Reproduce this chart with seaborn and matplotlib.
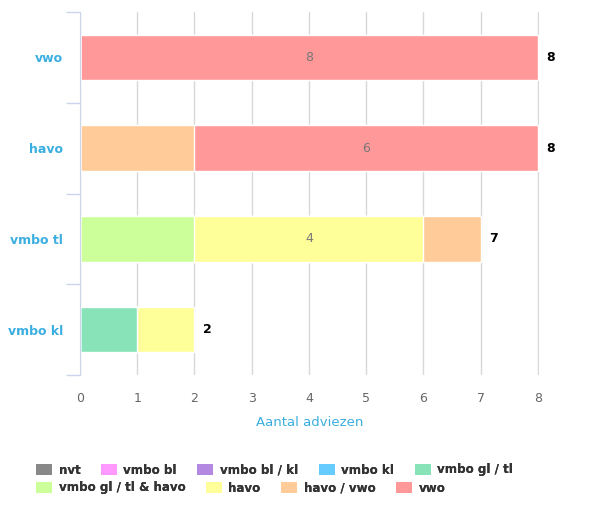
import matplotlib
matplotlib.use("Agg")
import matplotlib.pyplot as plt
import numpy as np
import pandas as pd
import seaborn as sns
from matplotlib.patches import Patch
from matplotlib.ticker import FixedLocator

# Data
categories = ["vwo", "havo", "vmbo tl", "vmbo kl"]
series = ["nvt", "vmbo bl", "vmbo bl / kl", "vmbo kl", "vmbo gl / tl",
          "vmbo gl / tl & havo", "havo", "havo / vwo", "vwo"]
colors = ["#888888", "#ff99ff", "#b388e0", "#66ccff", "#88e3b8",
          "#ccff99", "#ffff99", "#ffcc99", "#ff9999"]
values = {
    "nvt":                 [0, 0, 0, 0],
    "vmbo bl":             [0, 0, 0, 0],
    "vmbo bl / kl":        [0, 0, 0, 0],
    "vmbo kl":             [0, 0, 0, 0],
    "vmbo gl / tl":        [0, 0, 0, 1],
    "vmbo gl / tl & havo": [0, 0, 2, 0],
    "havo":                [0, 0, 4, 1],
    "havo / vwo":          [0, 2, 1, 0],
    "vwo":                 [8, 6, 0, 0],
}
x_ticks = [0, 1, 2, 3, 4, 5, 6, 7, 8]

df = pd.DataFrame(values, index=categories)
cum = df.cumsum(axis=1)
totals = df.sum(axis=1)

sns.set_style("white")
plt.rcParams["font.family"] = ["DejaVu Sans"]

blue = "#3aaee0"
fig = plt.figure(figsize=(5.91, 5.08), dpi=100)
ax = fig.add_axes([80 / 591, (508 - 375) / 508, 459 / 591, 363 / 508])

# Stacked bars: draw cumulative sums from the last series backwards
for name, col in zip(reversed(series), reversed(colors)):
    d = pd.DataFrame({"cat": categories, "val": cum[name].values})
    sns.barplot(data=d, x="val", y="cat", order=categories, color=col,
                width=0.5, saturation=1, ax=ax, zorder=2)

# Labels inside segments (only large ones) and totals
for i, cat in enumerate(categories):
    for name in series:
        v = df.loc[cat, name]
        if v >= 4:
            mid = cum.loc[cat, name] - v / 2
            ax.text(mid, i, f"{v:g}", ha="center", va="center",
                    color="#777777", fontsize=9, zorder=3)
    ax.text(totals[cat] + 0.15, i, f"{totals[cat]:g}", ha="left", va="center",
            color="black", fontsize=9, fontweight="bold", zorder=3)

# Axes
ax.set_xlim(0, 8.02)
ax.set_ylim(3.5, -0.5)
ax.set_xticks(x_ticks)
ax.set_xticklabels([str(t) for t in x_ticks], color="#666666", fontsize=9)
ax.tick_params(axis="x", length=0, pad=12)
ax.set_ylabel("")
ax.set_xlabel("Aantal adviezen", color=blue, fontsize=9.5, labelpad=8)
ax.set_yticks(range(len(categories)))
ax.set_yticklabels(categories, color=blue, fontsize=9, fontweight="bold")
ax.yaxis.set_minor_locator(FixedLocator(np.arange(-0.5, 4, 1)))
ax.tick_params(axis="y", which="major", length=0, pad=12)
ax.tick_params(axis="y", which="minor", left=True, length=10,
               color="#ccd6eb", width=1)

ax.grid(axis="x", color="#d8d8d8", linewidth=1, zorder=0)
ax.set_axisbelow(True)
for side in ["top", "right", "bottom"]:
    ax.spines[side].set_visible(False)
ax.spines["left"].set_color("#ccd6eb")
ax.spines["left"].set_zorder(4)

# Legend in two rows
handles = [Patch(facecolor=c, edgecolor="none", label=s) for s, c in zip(series, colors)]
for row, (start, stop, y) in enumerate([(0, 5, 470), (5, 9, 488)]):
    leg = fig.legend(handles=handles[start:stop], loc="center left",
                     bbox_to_anchor=(36 / 591, 1 - y / 508), ncol=stop - start,
                     frameon=False, fontsize=8.6, handlelength=1.35, handleheight=1.1,
                     handletextpad=0.55, columnspacing=1.7, borderpad=0,
                     borderaxespad=0)
    for t in leg.get_texts():
        t.set_color("#333333")
        t.set_fontweight("bold")
    fig.add_artist(leg)

fig.savefig("out.png", dpi=100)
